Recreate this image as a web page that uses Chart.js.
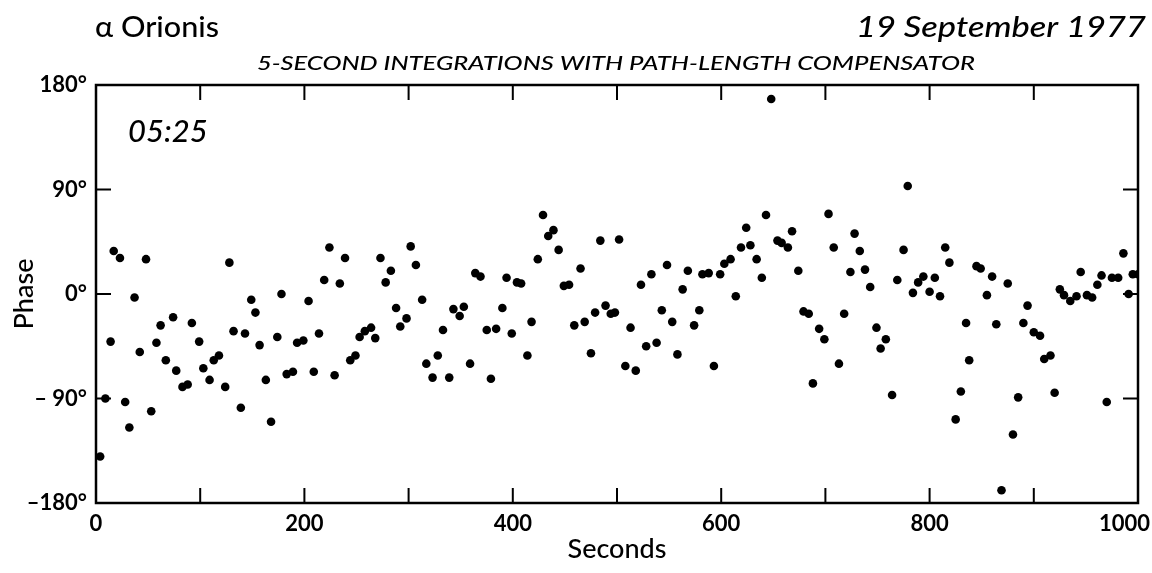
<!DOCTYPE html>
<html>
<head>
<meta charset="utf-8">
<script src="https://cdn.jsdelivr.net/npm/chart.js@4.4.1/dist/chart.umd.min.js"></script>
<style>
  html, body { margin: 0; padding: 0; background: #fff; }
  #wrap { width: 1152px; height: 573px; position: relative; }
</style>
</head>
<body>
<div id="wrap"><canvas id="c" width="1152" height="573"></canvas></div>
<script>
// ---- Data ----
const seconds = [4,9,14,17,23,28,32,37,42,48,53,58,62,67,74,77,83,88,92,99,
  103,109,113,118,124,128,132,139,143,149,153,157,163,168,174,178,183,189,193,199,
  204,209,214,219,224,229,234,239,244,249,253,258,264,268,273,278,283,288,292,298,
  302,307,313,317,323,328,333,339,343,349,353,359,364,369,375,379,384,390,394,399,
  404,408,414,418,424,429,434,439,444,449,454,459,465,469,475,479,484,489,494,498,
  502,508,513,518,523,528,533,538,543,548,553,558,563,568,574,579,582,588,593,599,
  603,609,614,619,624,628,634,639,643,648,654,658,664,668,674,679,684,688,694,699,
  703,708,713,718,724,728,733,738,743,749,753,758,764,769,775,779,784,789,794,800,
  805,810,815,819,825,830,835,838,845,849,855,860,864,869,875,880,885,890,894,900,
  906,910,916,920,925,929,935,941,945,951,956,961,965,970,975,981,986,991,995,1000];
const phase = [-140,-90,-41,37,31,-93,-115,-3,-50,30,-101,-42,-27,-57,-20,-66,-80,-78,-25,-41,
  -64,-74,-57,-53,-80,27,-32,-98,-34,-5,-16,-44,-74,-110,-37,0,-69,-67,-42,-40,
  -6,-67,-34,12,40,-70,9,31,-57,-53,-37,-32,-29,-38,31,10,20,-12,-28,-21,
  41,25,-5,-60,-72,-53,-31,-72,-13,-19,-11,-60,18,15,-31,-73,-30,-12,14,-34,
  10,9,-53,-24,30,68,50,55,38,7,8,-27,22,-24,-51,-16,46,-10,-17,-16,
  47,-62,-29,-66,8,-45,17,-42,-14,25,-24,-52,4,20,-27,-14,17,18,-62,17,
  26,30,-2,40,57,42,30,14,68,168,46,44,40,54,20,-15,-17,-77,-30,-39,
  69,40,-60,-17,19,52,37,21,6,-29,-47,-39,-87,12,38,93,1,10,15,2,
  14,-2,40,27,-108,-84,-25,-57,24,22,-1,15,-26,-169,9,-121,-89,-25,-10,-33,
  -36,-56,-53,-85,4,-1,-6,-2,19,-1,-3,8,16,-93,14,14,35,0,17,17];
const xTickValues = [0,200,400,600,800,1000];
const xTickLabels = ['0','200','400','600','800','1000'];
const yTickValues = [-180,-90,0,90,180];
const yTickLabels = ['\u2013180\u00b0','\u2013 90\u00b0','0\u00b0','90\u00b0','180\u00b0'];
const minorXTicks = [100,200,300,400,500,600,700,800,900];
const innerYTicks = [-90,0,90];

const points = seconds.map((s, i) => ({ x: s, y: phase[i] }));
const FONT = 'Lato, "DejaVu Sans", sans-serif';

function fitText(ctx, text, x, y, width, align) {
  const w = ctx.measureText(text).width;
  const k = width / w;
  ctx.save();
  let left = x;
  if (align === 'right') left = x - width;
  else if (align === 'center') left = x - width / 2;
  ctx.translate(left, y);
  ctx.scale(k, 1);
  ctx.textAlign = 'left';
  ctx.fillText(text, 0, 0);
  ctx.restore();
}

const frame = {
  id: 'frame',
  afterDatasetsDraw(chart) {
    const { ctx, chartArea: a, scales: { x, y } } = chart;
    ctx.save();
    ctx.strokeStyle = '#000';
    ctx.lineWidth = 2.5;
    ctx.strokeRect(a.left, a.top, a.right - a.left, a.bottom - a.top);
    ctx.lineWidth = 2;
    const L = 15;
    ctx.beginPath();
    minorXTicks.forEach(v => {
      const px = x.getPixelForValue(v);
      ctx.moveTo(px, a.bottom); ctx.lineTo(px, a.bottom - L);
      ctx.moveTo(px, a.top); ctx.lineTo(px, a.top + L);
    });
    innerYTicks.forEach(v => {
      const py = y.getPixelForValue(v);
      ctx.moveTo(a.left, py); ctx.lineTo(a.left + L, py);
      ctx.moveTo(a.right, py); ctx.lineTo(a.right - L, py);
    });
    ctx.stroke();

    // x tick labels, positioned by the x scale
    ctx.fillStyle = '#000';
    ctx.font = 'bold 22px ' + FONT;
    ctx.textBaseline = 'middle';
    xTickValues.forEach((v, i) => {
      const px = x.getPixelForValue(v);
      const isLast = i === xTickValues.length - 1;
      ctx.textAlign = isLast ? 'right' : 'center';
      ctx.fillText(xTickLabels[i], isLast ? Math.min(px + 12, 1150) : px, a.bottom + 21);
    });
    ctx.restore();
  },
  afterDraw(chart) {
    const { ctx } = chart;
    ctx.save();
    ctx.fillStyle = '#000';
    ctx.textBaseline = 'alphabetic';
    ctx.font = '500 28px ' + FONT;
    fitText(ctx, '\u03b1 Orionis', 95, 37, 124, 'left');
    ctx.font = 'italic 500 28px ' + FONT;
    fitText(ctx, '19 September 1977', 1146, 37, 290, 'right');
    ctx.font = 'italic 500 19px ' + FONT;
    fitText(ctx, '5-SECOND INTEGRATIONS WITH PATH-LENGTH COMPENSATOR', 616, 70, 718, 'center');
    ctx.font = 'italic 500 31px ' + FONT;
    ctx.textAlign = 'left';
    ctx.fillText('05:25', 128, 142);
    ctx.restore();
  }
};

new Chart(document.getElementById('c'), {
  type: 'scatter',
  data: {
    datasets: [{
      data: points,
      pointRadius: 4.3,
      pointHoverRadius: 4.3,
      backgroundColor: '#000',
      borderWidth: 0
    }]
  },
  options: {
    responsive: false,
    animation: false,
    devicePixelRatio: 1,
    layout: { padding: { top: 85, right: 14, left: 0, bottom: 0 } },
    plugins: { legend: { display: false }, tooltip: { enabled: false }, title: { display: false } },
    scales: {
      x: {
        type: 'linear', min: 0, max: 1000,
        grid: { display: false, drawTicks: false },
        border: { display: false },
        afterBuildTicks: s => { s.ticks = xTickValues.map(v => ({ value: v })); },
        ticks: { display: false },
        title: { display: true, text: 'Seconds', color: '#000', padding: { top: 0, bottom: 8 }, font: { family: FONT, size: 27, weight: '500' } },
        afterFit: s => { s.height = 70; s.paddingRight = 0; s.paddingLeft = 0; }
      },
      y: {
        type: 'linear', min: -180, max: 180,
        grid: { display: false, drawTicks: false },
        border: { display: false },
        afterBuildTicks: s => { s.ticks = yTickValues.map(v => ({ value: v })); },
        ticks: {
          color: '#000', padding: 9,
          font: { family: FONT, size: 22, weight: 'bold' },
          callback: v => yTickLabels[yTickValues.indexOf(v)]
        },
        title: { display: true, text: 'Phase', color: '#000', padding: { bottom: 0, top: 8 }, font: { family: FONT, size: 27, weight: '500' } },
        afterFit: s => { s.width = 96; s.paddingTop = 0; s.paddingBottom = 0; }
      }
    }
  },
  plugins: [frame]
});
</script>
</body>
</html>
